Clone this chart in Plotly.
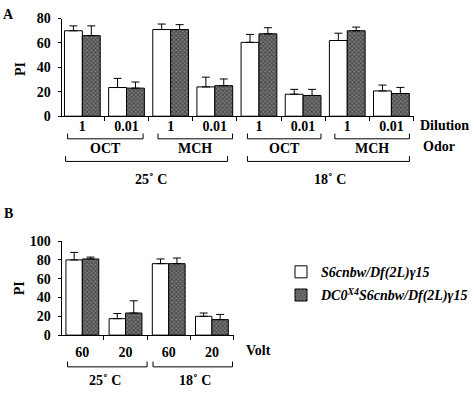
import plotly.graph_objects as go

# ---------------- data ----------------
dilution_labels = ["1", "0.01", "1", "0.01", "1", "0.01", "1", "0.01"]
pi_a_control = [70, 23.5, 71, 24, 60.5, 18, 62, 20.7]
err_a_control = [4, 7.5, 4.5, 8, 6.5, 4, 6, 4.8]
pi_a_dc0 = [66, 23, 71, 25, 67.5, 17, 70, 18.6]
err_a_dc0 = [8, 5, 4, 5.5, 5, 5, 3, 5]

volt_labels = ["60", "20", "60", "20"]
pi_b_control = [80, 17.5, 76, 20]
err_b_control = [8, 5.5, 5, 3.5]
pi_b_dc0 = [81, 23.5, 76, 16.5]
err_b_dc0 = [2, 13, 6, 5.5]

odor_labels = ["OCT", "MCH", "OCT", "MCH"]
temp_labels = ["25\u02da C", "18\u02da C"]
name_control = "<b><i>S6cnbw/Df(2L)\u03b315</i></b>"
name_dc0 = "<b><i>DC0<sup>X4</sup>S6cnbw/Df(2L)\u03b315</i></b>"

W, H = 474, 397
FONT = "Liberation Serif"


def px(x):
    return x / W


def py(y):
    return 1 - y / H


xa = list(range(len(dilution_labels)))
xb = list(range(len(volt_labels)))

pattern = dict(shape="x", size=3, solidity=0.5, fgcolor="#111111", bgcolor="#7a7a7a")
ebar = dict(type="data", symmetric=False, color="black", thickness=1, width=4)

fig = go.Figure()
wa = 0.405
wb = 0.38
fig.add_trace(go.Bar(x=xa, y=pi_a_control, width=wa, offset=-wa, name=name_control,
                     marker=dict(color="white", line=dict(color="black", width=1)),
                     error_y=dict(ebar, array=err_a_control, arrayminus=[0] * 8),
                     xaxis="x", yaxis="y", showlegend=False))
fig.add_trace(go.Bar(x=xa, y=pi_a_dc0, width=wa, offset=0, name=name_dc0,
                     marker=dict(color="#555", pattern=pattern, line=dict(color="black", width=1)),
                     error_y=dict(ebar, array=err_a_dc0, arrayminus=[0] * 8),
                     xaxis="x", yaxis="y", showlegend=False))
fig.add_trace(go.Bar(x=xb, y=pi_b_control, width=wb, offset=-wb, name=name_control,
                     legendgroup="g1",
                     marker=dict(color="white", line=dict(color="black", width=1)),
                     error_y=dict(ebar, array=err_b_control, arrayminus=[0] * 4),
                     xaxis="x2", yaxis="y2"))
fig.add_trace(go.Bar(x=xb, y=pi_b_dc0, width=wb, offset=0, name=name_dc0,
                     legendgroup="g2",
                     marker=dict(color="#555", pattern=pattern, line=dict(color="black", width=1)),
                     error_y=dict(ebar, array=err_b_dc0, arrayminus=[0] * 4),
                     xaxis="x2", yaxis="y2"))

tickfont = dict(family=FONT, size=14, color="black", weight="bold")
common_x = dict(showline=True, linecolor="black", linewidth=1, ticks="", tickfont=tickfont,
                showgrid=False, zeroline=False,
                minor=dict(ticks="outside", ticklen=4, tickcolor="black", tick0=0.5, dtick=1))
common_y = dict(showline=True, linecolor="black", linewidth=1, ticks="outside", ticklen=3,
                tickcolor="black", tickfont=tickfont, showgrid=False, zeroline=False,
                ticklabelstandoff=4)

fig.update_layout(
    width=W, height=H, margin=dict(l=0, r=0, t=0, b=0),
    paper_bgcolor="white", plot_bgcolor="white",
    barmode="overlay",
    font=dict(family=FONT, size=14, color="black"),
    xaxis=dict(common_x, domain=[px(62), px(417)], range=[-0.47, 7.52],
               tickvals=xa, ticktext=dilution_labels, anchor="y", ticklabelstandoff=-3),
    yaxis=dict(common_y, domain=[py(113.5), py(12)], range=[0, 80],
               tickvals=[0, 20, 40, 60, 80], anchor="x"),
    xaxis2=dict(common_x, domain=[px(62), px(235)], range=[-0.48, 3.5],
                tickvals=xb, ticktext=volt_labels, anchor="y2", ticklabelstandoff=4),
    yaxis2=dict(common_y, domain=[py(341), py(243.3)], range=[0, 100],
                tickvals=[0, 20, 40, 60, 80, 100], anchor="x2"),
    legend=dict(x=px(283), y=py(259), xanchor="left", yanchor="top",
                font=dict(family=FONT, size=14, color="black"),
                bgcolor="rgba(0,0,0,0)", tracegroupgap=2, itemwidth=30,
                traceorder="grouped"),
)

shapes = []


def bracket(x0, x1, ytop, ybot):
    for xs, ys in [((x0, x0), (ytop, ybot)), ((x0, x1), (ybot, ybot)), ((x1, x1), (ybot, ytop))]:
        shapes.append(dict(type="line", xref="paper", yref="paper",
                           x0=px(xs[0]), x1=px(xs[1]), y0=py(ys[0]), y1=py(ys[1]),
                           line=dict(color="black", width=1)))


# Panel A brackets
for x0, x1 in [(68, 144), (159, 234), (249, 323), (337, 412)]:
    bracket(x0, x1, 131.5, 137)
for x0, x1 in [(66, 229), (249, 412)]:
    bracket(x0, x1, 155, 160.5)
# Panel B brackets
for x0, x1 in [(68, 148), (154, 234)]:
    bracket(x0, x1, 368.5, 374)
fig.update_layout(shapes=shapes)

ann = []


def text(x, y, s, size=14, xanchor="center", angle=0):
    ann.append(dict(x=px(x), y=py(y), xref="paper", yref="paper", text=s, showarrow=False,
                    xanchor=xanchor, yanchor="middle", textangle=angle,
                    font=dict(family=FONT, size=size, color="black", weight="bold")))


text(9, 8, "A", 14)
text(9, 215, "B", 14)
text(20.5, 64, "PI", 14, angle=-90)
text(20.5, 292, "PI", 14, angle=-90)
text(421, 123.5, "Dilution", 14, xanchor="left")
text(424, 144.5, "Odor", 14, xanchor="left")
for cx, s in zip([106, 196.5, 286, 374.5], odor_labels):
    text(cx, 147.5, s, 14)
for cx, s in zip([152, 332], temp_labels):
    text(cx, 179, s, 14)
text(246, 357, "Volt", 14, xanchor="left")
for cx, s in zip([106, 196], temp_labels):
    text(cx, 388, s, 14)
fig.update_layout(annotations=ann)

fig.write_html("out.html", config={"displayModeBar": False},
               post_script="document.body.style.margin='0';document.body.style.padding='0';")
